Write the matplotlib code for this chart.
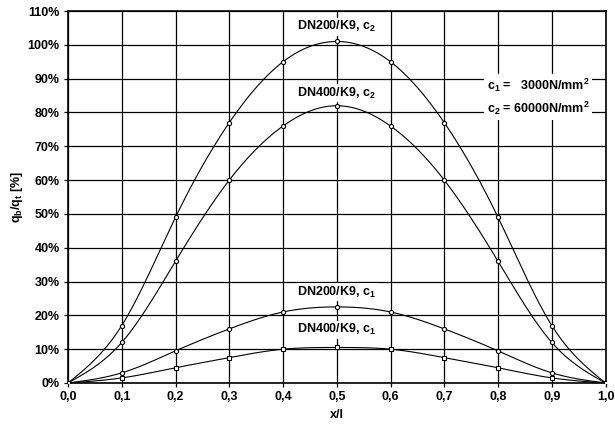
import matplotlib.pyplot as plt
import numpy as np

plt.rcParams['font.family'] = ['Liberation Sans', 'DejaVu Sans']
plt.rcParams['font.weight'] = 'bold'
plt.rcParams['mathtext.fontset'] = 'custom'
plt.rcParams['mathtext.rm'] = 'Liberation Sans:bold'
plt.rcParams['mathtext.bf'] = 'Liberation Sans:bold'

x = [0.0, 0.1, 0.2, 0.3, 0.4, 0.5, 0.6, 0.7, 0.8, 0.9, 1.0]
dn200_c2 = [0, 17, 49, 77, 95, 101, 95, 77, 49, 17, 0]
dn400_c2 = [0, 12, 36, 60, 76, 82, 76, 60, 36, 12, 0]
dn200_c1 = [0, 3, 9.5, 16, 21, 22.5, 21, 16, 9.5, 3, 0]
dn400_c1 = [0, 1.5, 4.5, 7.5, 10, 10.5, 10, 7.5, 4.5, 1.5, 0]

xticks = [0.0, 0.1, 0.2, 0.3, 0.4, 0.5, 0.6, 0.7, 0.8, 0.9, 1.0]
yticks = [0, 10, 20, 30, 40, 50, 60, 70, 80, 90, 100, 110]


def spline(xs, ys, n=400):
    # natural cubic spline through the points, just to draw a smooth line
    xs = np.asarray(xs, float)
    ys = np.asarray(ys, float)
    k = len(xs)
    h = np.diff(xs)
    A = np.zeros((k, k))
    b = np.zeros(k)
    A[0, 0] = A[-1, -1] = 1
    for i in range(1, k - 1):
        A[i, i - 1] = h[i - 1]
        A[i, i] = 2 * (h[i - 1] + h[i])
        A[i, i + 1] = h[i]
        b[i] = 6 * ((ys[i + 1] - ys[i]) / h[i] - (ys[i] - ys[i - 1]) / h[i - 1])
    m = np.linalg.solve(A, b)
    xx = np.linspace(xs[0], xs[-1], n)
    j = np.clip(np.searchsorted(xs, xx) - 1, 0, k - 2)
    t0 = xs[j + 1] - xx
    t1 = xx - xs[j]
    yy = (m[j] * t0 ** 3 + m[j + 1] * t1 ** 3) / (6 * h[j]) \
        + (ys[j] / h[j] - m[j] * h[j] / 6) * t0 \
        + (ys[j + 1] / h[j] - m[j + 1] * h[j] / 6) * t1
    return xx, yy


fig = plt.figure(figsize=(6.15, 4.33), dpi=100)
ax = fig.add_axes([0.1106, 0.1155, 0.874, 0.859])

for ys, mk in ((dn200_c2, 'o'), (dn400_c2, 'o'), (dn200_c1, 'o'), (dn400_c1, 's')):
    sx, sy = spline(x, ys)
    ax.plot(sx, sy, color='black', lw=0.8, zorder=3)
    ax.plot(x, ys, linestyle='none', marker=mk, ms=3, mfc='white',
            mec='black', mew=0.8, zorder=4)

ax.set_xlim(0, 1)
ax.set_ylim(0, 110)
ax.set_xticks(xticks)
ax.set_yticks(yticks)
ax.set_xticklabels([('%.1f' % v).replace('.', ',') for v in xticks], fontsize=9, fontweight='bold')
ax.set_yticklabels(['%d%%' % v for v in yticks], fontsize=9, fontweight='bold')
ax.grid(True, color='black', lw=0.9)
ax.tick_params(length=3, width=0.9, direction='out', pad=3)
for s in ax.spines.values():
    s.set_linewidth(1.2)

ax.set_xlabel('x/l', fontsize=9, fontweight='bold', labelpad=4)
ax.set_ylabel('q$_\\mathrm{b}$/q$_\\mathrm{t}$ [%]', fontsize=9, fontweight='bold', labelpad=2)

box = dict(facecolor='white', edgecolor='none', pad=1)
ax.text(0.5, 105.3, 'DN200/K9, c$_\\mathrm{2}$', ha='center', va='center', fontsize=9, fontweight='bold', bbox=box)
ax.text(0.5, 85.7, 'DN400/K9, c$_\\mathrm{2}$', ha='center', va='center', fontsize=9, fontweight='bold', bbox=box)
ax.text(0.5, 26.9, 'DN200/K9, c$_\\mathrm{1}$', ha='center', va='center', fontsize=9, fontweight='bold', bbox=box)
ax.text(0.5, 15.7, 'DN400/K9, c$_\\mathrm{1}$', ha='center', va='center', fontsize=9, fontweight='bold', bbox=box)
ax.text(0.875, 84.6, 'c$_\\mathrm{1}$ =   3000N/mm$^\\mathrm{2}$\nc$_\\mathrm{2}$ = 60000N/mm$^\\mathrm{2}$',
        ha='center', va='center', fontsize=9, fontweight='bold', linespacing=1.45,
        bbox=dict(facecolor='white', edgecolor='none', pad=2))

fig.savefig('out.png', dpi=100)
